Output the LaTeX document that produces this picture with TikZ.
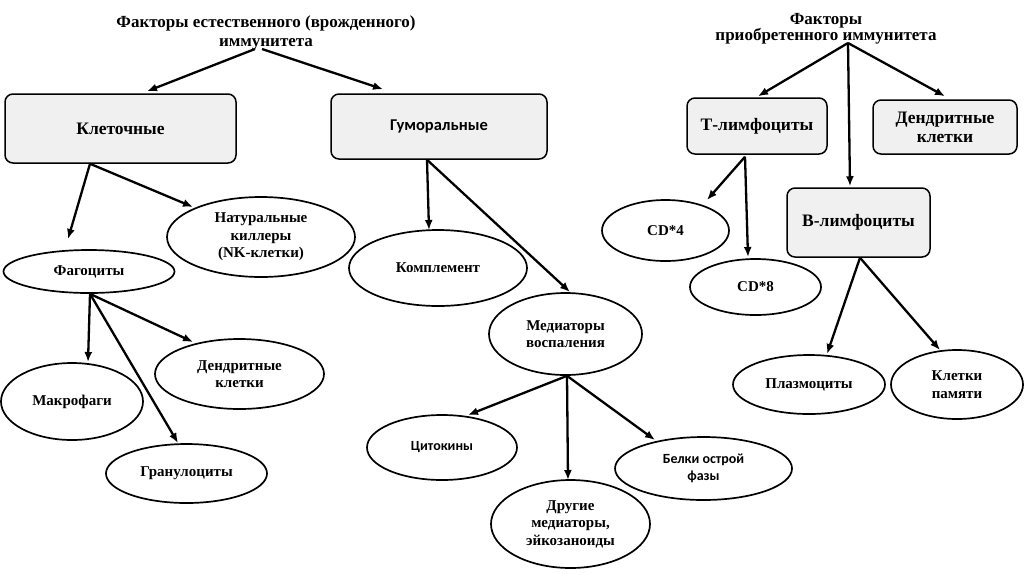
\documentclass[tikz,border=0pt]{standalone}
\usepackage{fontspec}
\setmainfont{Liberation Serif}
\newfontfamily\calfont{Carlito}
\usetikzlibrary{arrows.meta,shapes.geometric}
\begin{document}
\begin{tikzpicture}[x=1pt,y=-1pt,
  box/.style={draw=black,line width=1.5pt,rounded corners=8pt,fill=black!6,inner sep=0pt,align=center,font=\fontsize{17.5}{19}\selectfont\bfseries},
  ell/.style={draw=black,line width=1.7pt,ellipse,inner sep=0pt,align=center,font=\fontsize{15}{17.5}\selectfont\bfseries},
  ttl/.style={align=center,inner sep=0pt,font=\fontsize{17}{19}\selectfont\bfseries},
  arr/.style={line width=2.3pt,-{Latex[length=10pt,width=8pt]}}]
\useasboundingbox[fill=white] (0,0) rectangle (1024,574);
% titles
\node[ttl] (t1) at (266,32.5) {Факторы естественного (врожденного)\\иммунитета};
\node[ttl,font=\fontsize{17}{16}\selectfont\bfseries] (t2) at (826,29) {Факторы\\приобретенного иммунитета};
% boxes
\node[box,minimum width=231,minimum height=69] (klet) at (120.5,128.5) {Клеточные};
\node[box,minimum width=216,minimum height=65,font=\calfont\fontsize{16.5}{19}\selectfont\bfseries] (gum) at (439,126.5) {Гуморальные};
\node[box,minimum width=140,minimum height=56] (tl) at (757,126) {Т-лимфоциты};
\node[box,minimum width=144,minimum height=54] (dk) at (945,127) {Дендритные\\клетки};
\node[box,minimum width=143,minimum height=69] (bl) at (858.5,222.5) {В-лимфоциты};
% ellipses
\node[ell,minimum width=188,minimum height=80] (nk) at (261,237) {Натуральные\\киллеры\\(NK-клетки)};
\node[ell,minimum width=171,minimum height=43] (fag) at (89,271.5) {Фагоциты};
\node[ell,minimum width=142,minimum height=77] (mak) at (72,401.5) {Макрофаги};
\node[ell,minimum width=169,minimum height=70] (dend) at (239.5,374) {Дендритные\\клетки};
\node[ell,minimum width=161,minimum height=59] (gran) at (186.5,473.5) {Гранулоциты};
\node[ell,minimum width=178,minimum height=76] (kompl) at (438,268) {Комплемент};
\node[ell,minimum width=153,minimum height=82] (med) at (565.5,334) {Медиаторы\\воспаления};
\node[ell,minimum width=150,minimum height=65,font=\calfont\fontsize{14}{17}\selectfont\bfseries] (cyt) at (442,447.5) {Цитокины};
\node[ell,minimum width=159,minimum height=88] (other) at (570.5,524) {Другие\\медиаторы,\\эйкозаноиды};
\node[ell,minimum width=177,minimum height=63,font=\calfont\fontsize{14}{17}\selectfont\bfseries] (belki) at (703.5,468.5) {Белки острой\\фазы};
\node[ell,minimum width=127,minimum height=61] (cd4) at (665.5,230.5) {CD*4};
\node[ell,minimum width=131,minimum height=56] (cd8) at (755.5,287) {CD*8};
\node[ell,minimum width=152,minimum height=59] (plasma) at (809,384.5) {Плазмоциты};
\node[ell,minimum width=132,minimum height=69] (mem) at (957,384.5) {Клетки\\памяти};
% arrows
\draw[arr] ([shift={(-11,16.5)}]t1.center) -- ([shift={(26.5,-2)}]klet.north);
\draw[arr] ([shift={(-4,16.5)}]t1.center) -- ([shift={(-56,-4)}]gum.north);
\draw[arr] ([xshift=-30.5pt]klet.south) -- ([shift={(-21,-32.5)}]fag.center);
\draw[arr] ([xshift=-30.5pt]klet.south) -- ([shift={(-68,-30)}]nk.center);
\draw[arr] ([xshift=1pt]fag.south) -- ([shift={(16,-39.5)}]mak.center);
\draw[arr] ([xshift=1pt]fag.south) -- ([shift={(-46.5,-32)}]dend.center);
\draw[arr] ([xshift=1pt]fag.south) -- ([shift={(-8.5,-30.5)}]gran.center);
\draw[arr] ([xshift=-12pt]gum.south) -- ([shift={(-9,-38)}]kompl.center);
\draw[arr] ([xshift=-12pt]gum.south) -- ([shift={(4.5,-42)}]med.center);
\draw[arr] ([xshift=1.5pt]med.south) -- ([shift={(26,-32.5)}]cyt.center);
\draw[arr] ([xshift=1.5pt]med.south) -- ([shift={(-2.5,-44)}]other.center);
\draw[arr] ([xshift=1.5pt]med.south) -- ([shift={(-48.5,-28.5)}]belki.center);
\draw[arr] ([shift={(22,14)}]t2.center) -- ([shift={(1,-1)}]tl.north);
\draw[arr] ([shift={(22,14)}]t2.center) -- ([shift={(0,-3)}]dk.north);
\draw[arr] ([shift={(22,14)}]t2.center) -- ([shift={(-8.5,-1)}]bl.north);
\draw[arr] ([shift={(-12,2)}]tl.south) -- ([shift={(41.5,-30.5)}]cd4.center);
\draw[arr] ([shift={(-12,2)}]tl.south) -- ([shift={(-7.5,-30)}]cd8.center);
\draw[arr] ([xshift=1.5pt]bl.south) -- ([shift={(18,-30.5)}]plasma.center);
\draw[arr] ([xshift=1.5pt]bl.south) -- ([shift={(-17,-34.5)}]mem.center);
\end{tikzpicture}
\end{document}
